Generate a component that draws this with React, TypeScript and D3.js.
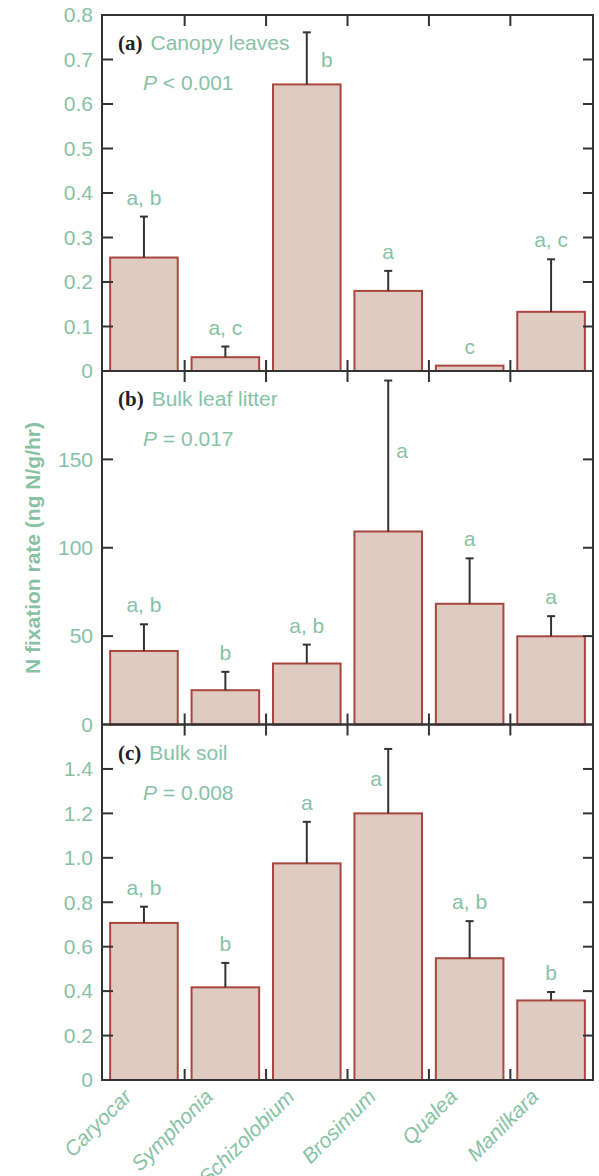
import * as d3 from 'd3';
import React from 'react';

// species on the x axis
const categories = ['Caryocar', 'Symphonia', 'Schizolobium', 'Brosimum', 'Qualea', 'Manilkara'];

// (a) canopy leaves
const canopyMean = [0.255, 0.031, 0.644, 0.18, 0.012, 0.133];
const canopyUpper = [0.347, 0.055, 0.761, 0.225, 0.012, 0.251];
const canopyLetters = ['a, b', 'a, c', 'b', 'a', 'c', 'a, c'];
const canopyTicks = [0, 0.1, 0.2, 0.3, 0.4, 0.5, 0.6, 0.7, 0.8];

// (b) bulk leaf litter
const litterMean = [41.6, 19.4, 34.5, 109.2, 68.3, 49.9];
const litterUpper = [56.7, 29.8, 45.2, 194.6, 94, 61.3];
const litterLetters = ['a, b', 'b', 'a, b', 'a', 'a', 'a'];
const litterTicks = [0, 50, 100, 150];

// (c) bulk soil
const soilMean = [0.707, 0.417, 0.975, 1.2, 0.548, 0.358];
const soilUpper = [0.78, 0.527, 1.162, 1.49, 0.715, 0.396];
const soilLetters = ['a, b', 'b', 'a', 'a', 'a, b', 'b'];
const soilTicks = [0, 0.2, 0.4, 0.6, 0.8, 1.0, 1.2, 1.4];

const GREEN = '#87c2a5';
const AXIS = '#333';
const FILL = '#e0cbc2';
const EDGE = '#a8463f';
const SANS = '"Liberation Sans", Arial, Helvetica, sans-serif';
const SERIF = '"Liberation Serif", "Times New Roman", serif';

const left = 102;
const right = 593;

const x = d3.scaleBand().domain(categories).range([left, right])
  .paddingInner(0.17).paddingOuter(0.1);

const decimal = (v) => (v === 0 ? '0' : d3.format('.1f')(v));

const panels = [
  { tag: '(a)', name: 'Canopy leaves', p: 'P < 0.001', mean: canopyMean, upper: canopyUpper, letters: canopyLetters,
    ticks: canopyTicks, max: 0.8, top: 15, bottom: 371, fmt: decimal },
  { tag: '(b)', name: 'Bulk leaf litter', p: 'P = 0.017', mean: litterMean, upper: litterUpper, letters: litterLetters,
    ticks: litterTicks, max: 200, top: 371, bottom: 724.5, fmt: (v) => String(v) },
  { tag: '(c)', name: 'Bulk soil', p: 'P = 0.008', mean: soilMean, upper: soilUpper, letters: soilLetters,
    ticks: soilTicks, max: 1.6, top: 724.5, bottom: 1080, fmt: decimal },
];

// letters that sit beside the error bar instead of above it: panel-index -> value, dx
const sideLetters = {
  '0-2': { v: 0.7, dx: 20 },
  '1-3': { v: 155, dx: 14 },
  '2-3': { v: 1.355, dx: -12 },
};

function Panel({ cfg, idx, last }) {
  const y = d3.scaleLinear().domain([0, cfg.max]).range([cfg.bottom, cfg.top]);
  const step = x.step();
  const bounds = categories.slice(1).map((c) => x(c) - (step * x.paddingInner()) / 2);
  const inner = cfg.ticks.filter((t) => t > 0 && t < cfg.max);

  return (
    <g>
      {/* bars */}
      {categories.map((c, i) => (
        <rect key={c} x={x(c)} y={y(cfg.mean[i])} width={x.bandwidth()} height={y(0) - y(cfg.mean[i])}
          fill={FILL} stroke={EDGE} strokeWidth={2} />
      ))}
      {/* error bars, upper half only */}
      {categories.map((c, i) => {
        if (cfg.upper[i] <= cfg.mean[i]) return null;
        const cx = x(c) + x.bandwidth() / 2;
        return (
          <g key={c} stroke={AXIS} strokeWidth={2}>
            <line x1={cx} x2={cx} y1={y(cfg.mean[i])} y2={y(cfg.upper[i])} />
            <line x1={cx - 4} x2={cx + 4} y1={y(cfg.upper[i])} y2={y(cfg.upper[i])} />
          </g>
        );
      })}
      {/* significance letters */}
      {categories.map((c, i) => {
        const cx = x(c) + x.bandwidth() / 2;
        const side = sideLetters[idx + '-' + i];
        if (side) {
          return (
            <text key={c} x={cx + side.dx} y={y(side.v)} dy="0.35em" textAnchor="middle"
              fill={GREEN} fontFamily={SANS} fontSize={21}>{cfg.letters[i]}</text>
          );
        }
        return (
          <text key={c} x={cx} y={y(Math.max(cfg.mean[i], cfg.upper[i])) - 12} textAnchor="middle"
            fill={GREEN} fontFamily={SANS} fontSize={21}>{cfg.letters[i]}</text>
        );
      })}
      {/* frame */}
      <rect x={left} y={cfg.top} width={right - left} height={cfg.bottom - cfg.top}
        fill="none" stroke={AXIS} strokeWidth={2} />
      {/* y ticks, both sides pointing in */}
      {inner.map((t) => (
        <g key={t} stroke={AXIS} strokeWidth={2}>
          <line x1={left} x2={left + 11} y1={y(t)} y2={y(t)} />
          <line x1={right} x2={right - 10} y1={y(t)} y2={y(t)} />
        </g>
      ))}
      {/* x boundary ticks top and bottom */}
      {bounds.map((b, i) => (
        <g key={i} stroke={AXIS} strokeWidth={2}>
          <line x1={b} x2={b} y1={cfg.top} y2={cfg.top + 11} />
          <line x1={b} x2={b} y1={cfg.bottom} y2={cfg.bottom - 11} />
        </g>
      ))}
      {/* tick labels */}
      {cfg.ticks.map((t) => (
        <text key={t} x={left - 9} y={y(t)} dy="0.35em" textAnchor="end"
          fill={GREEN} fontFamily={SANS} fontSize={21}>{cfg.fmt(t)}</text>
      ))}
      {/* panel title */}
      <text x={118} y={cfg.top + 35} fontFamily={SANS} fontSize={21}>
        <tspan fill="#222" fontFamily={SERIF} fontWeight="bold">{cfg.tag}</tspan>
        <tspan fill={GREEN} dx={8}>{cfg.name}</tspan>
      </text>
      <text x={143} y={cfg.top + 75} fontFamily={SANS} fontSize={21} fill={GREEN}>
        <tspan fontStyle="italic">P</tspan>
        <tspan>{cfg.p.slice(1)}</tspan>
      </text>
      {last && categories.map((c) => {
        const cx = x(c) + x.bandwidth() / 2;
        return (
          <text key={c} transform={`translate(${cx - 11},${cfg.bottom + 18}) rotate(-45)`} textAnchor="end"
            fill={GREEN} fontFamily={SANS} fontSize={21} fontStyle="italic">{c}</text>
        );
      })}
    </g>
  );
}

export default function App() {
  return (
    <svg width={599} height={1176} style={{ position: 'absolute', left: 0, top: 0, background: '#fff' }}>
      {panels.map((p, i) => (
        <Panel key={p.tag} cfg={p} idx={i} last={i === panels.length - 1} />
      ))}
      <text transform="translate(40,548) rotate(-90)" textAnchor="middle" fill={GREEN}
        fontFamily={SANS} fontSize={21} fontWeight="bold">N fixation rate (ng N/g/hr)</text>
    </svg>
  );
}
